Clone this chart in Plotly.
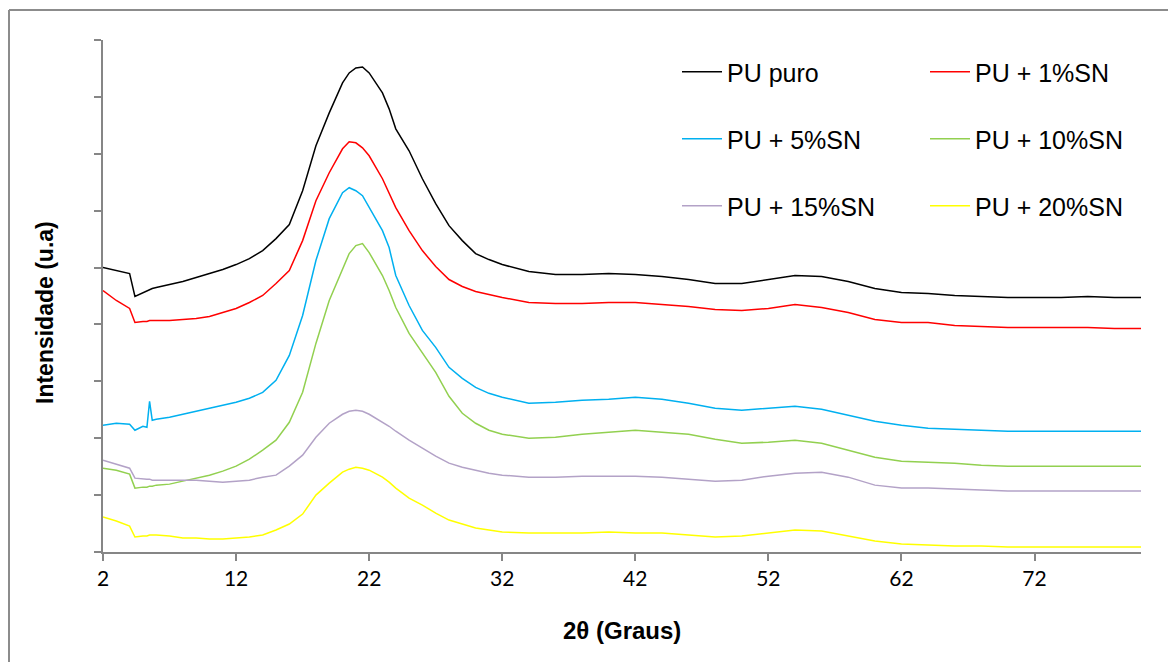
import plotly.graph_objects as go

two_theta = [2, 3, 4, 4.4, 5, 5.3, 5.5, 5.7,
             6, 7, 8, 9, 10, 11, 12, 13, 14, 15, 16, 17, 18, 19, 20,
             20.5, 21, 21.5, 22, 23, 23.5,
             24, 25, 26, 27, 28, 29, 30, 31, 32,
             34, 36, 38, 40, 42, 44, 46, 48, 50, 52, 54, 56, 58, 60,
             62, 64, 66, 68, 70, 72, 74, 76, 78, 80]

pu_puro = [285, 282, 279, 256, 260, 262, 263, 264,
           265, 268, 271, 275, 279, 283, 288, 294, 302, 314, 328, 362, 407, 440, 470,
           480, 485, 486, 480, 460, 444,
           424, 402, 374, 349, 327, 312, 299, 293, 288,
           281, 278, 278, 279, 278, 276, 273, 269, 269, 273, 277, 276, 271, 264,
           260, 259, 257, 256, 255, 255, 255, 256, 255, 255]

pu_1sn = [262, 252, 244, 230, 231, 231, 232, 232,
          232, 232, 233, 234, 236, 240, 244, 250, 257, 269, 282, 312, 352, 380, 404,
          411, 410, 405, 397, 374, 360,
          345, 322, 302, 286, 273, 266, 261, 258, 255,
          250, 249, 249, 250, 250, 248, 246, 243, 242, 244, 248, 245, 240, 233,
          230, 230, 227, 226, 225, 225, 225, 225, 224, 224]

pu_5sn = [127, 129, 128, 122, 126, 125, 151, 132,
          133, 135, 138, 141, 144, 147, 150, 154, 160, 172, 197, 237, 292, 334, 360,
          365, 362, 357, 345, 322, 305,
          277, 247, 222, 205, 185, 174, 165, 159, 155,
          149, 150, 152, 153, 155, 153, 149, 144, 142, 144, 146, 143, 137, 131,
          127, 124, 123, 122, 121, 121, 121, 121, 121, 121]

pu_10sn = [84, 82, 78, 64, 65, 65, 66, 66,
           67, 68, 71, 74, 77, 81, 86, 93, 102, 112, 130, 160, 209, 252, 284,
           299, 307, 309, 300, 277, 262,
           245, 219, 200, 180, 156, 139, 129, 122, 118,
           114, 115, 118, 120, 122, 120, 118, 113, 109, 110, 112, 109, 102, 95,
           91, 90, 89, 87, 86, 86, 86, 86, 86, 86]

pu_15sn = [92, 88, 84, 74, 73, 73, 73, 72,
           72, 72, 72, 72, 71, 70, 71, 72, 75, 77, 86, 97, 115, 129, 138,
           141, 142, 141, 138, 130, 126,
           121, 112, 104, 96, 89, 85, 82, 79, 77,
           75, 75, 76, 76, 76, 75, 73, 71, 72, 76, 79, 80, 75, 67,
           64, 64, 63, 62, 61, 61, 61, 61, 61, 61]

pu_20sn = [35, 31, 26, 15, 16, 16, 17, 17,
           17, 16, 14, 14, 13, 13, 14, 15, 17, 22, 28, 38, 57, 69, 80,
           83, 85, 84, 82, 75, 70,
           64, 54, 47, 39, 32, 28, 24, 22, 20,
           19, 19, 19, 20, 19, 19, 17, 15, 16, 19, 22, 21, 16, 11,
           8, 7, 6, 6, 5, 5, 5, 5, 5, 5]

series_names = ["PU puro", "PU + 1%SN", "PU + 5%SN", "PU + 10%SN", "PU + 15%SN", "PU + 20%SN"]
series_values = [pu_puro, pu_1sn, pu_5sn, pu_10sn, pu_15sn, pu_20sn]
series_colors = ["#000000", "#FF0000", "#00B0F0", "#92D050", "#B3A2C7", "#FFFF00"]

x_tickvals = [2, 12, 22, 32, 42, 52, 62, 72]
y_tickvals = [0, 57, 114, 171, 228, 285, 342, 399, 456, 513]

# page has an 8px body margin; figure sized to fit the 1176x670 window
OFF = 8
W, H = 1160, 654
L, R, T, B = 95, 27, 32, 110
pw, ph = W - L - R, H - T - B


def px_x(p):
    return (p - OFF - L) / pw


def px_y(p):
    return (H - B - (p - OFF)) / ph


legend_ids = ["legend", "legend2", "legend3", "legend4", "legend5", "legend6"]
col_x = [px_x(677), px_x(925)]
row_y = [px_y(72), px_y(139), px_y(206)]

fig = go.Figure()
for i, (name, vals, col) in enumerate(zip(series_names, series_values, series_colors)):
    fig.add_trace(go.Scatter(
        x=two_theta, y=vals, mode="lines", name=name,
        line=dict(color=col, width=1.5),
        legend=legend_ids[i],
    ))

legend_font = dict(family="Liberation Sans, Arial, sans-serif", size=25, color="#000000")
layout_legends = {}
for i, lid in enumerate(legend_ids):
    layout_legends[lid] = dict(
        x=col_x[i % 2], y=row_y[i // 2], xanchor="left", yanchor="middle",
        font=legend_font, bgcolor="rgba(0,0,0,0)", borderwidth=0,
        itemwidth=40,
    )

axis_col = "#868686"
border = dict(color="#8c8c8c", width=2)
fig.update_layout(
    width=W, height=H,
    margin=dict(l=L, r=R, t=T, b=B),
    paper_bgcolor="white", plot_bgcolor="white",
    showlegend=True,
    xaxis=dict(
        range=[2, 80], tickvals=x_tickvals, ticktext=[str(v) for v in x_tickvals],
        showgrid=False, zeroline=False, showline=True, linecolor=axis_col, linewidth=2,
        ticks="outside", ticklen=7, tickwidth=2, tickcolor=axis_col,
        tickfont=dict(family="Lato, Carlito, sans-serif", size=21, color="#000000"),
    ),
    yaxis=dict(
        range=[0, 513], tickvals=y_tickvals, showticklabels=False,
        showgrid=False, zeroline=False, showline=True, linecolor=axis_col, linewidth=2,
        ticks="outside", ticklen=7, tickwidth=2, tickcolor=axis_col,
    ),
    annotations=[
        dict(text="<b>2θ (Graus)</b>", x=px_x(622), y=px_y(630), xref="paper", yref="paper",
             xanchor="center", yanchor="middle", showarrow=False,
             font=dict(family="Liberation Sans, Arial, sans-serif", size=24, color="#000000")),
        dict(text="<b>Intensidade (u.a)</b>", x=px_x(45), y=px_y(313), xref="paper", yref="paper",
             xanchor="center", yanchor="middle", showarrow=False, textangle=-90,
             font=dict(family="Liberation Sans, Arial, sans-serif", size=23, color="#000000")),
    ],
    shapes=[
        dict(type="line", xref="paper", yref="paper",
             x0=px_x(9), x1=px_x(9), y0=px_y(700), y1=px_y(10), line=border, layer="below"),
        dict(type="line", xref="paper", yref="paper",
             x0=px_x(9), x1=px_x(1200), y0=px_y(10), y1=px_y(10), line=border, layer="below"),
    ],
    **layout_legends,
)

fig.write_html("out.html")
